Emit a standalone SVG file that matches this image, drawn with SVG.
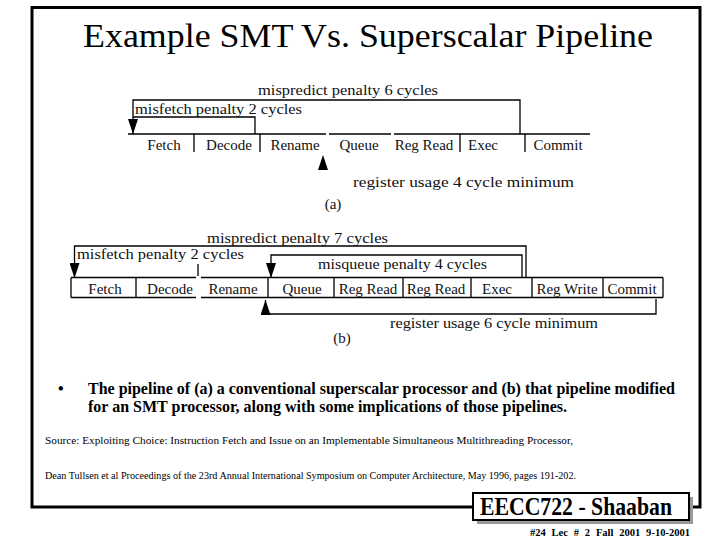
<svg xmlns="http://www.w3.org/2000/svg" width="720" height="540" viewBox="0 0 720 540">
<style>
.ln{fill:none;stroke:#000;stroke-width:1.3}
.lab{font-family:"Liberation Serif","Times New Roman",serif;font-size:15px;fill:#111}
.cell{font-family:"Liberation Serif","Times New Roman",serif;font-size:15px;fill:#111;text-anchor:middle}
.title{font-family:"Liberation Serif","Times New Roman",serif;font-size:34px;fill:#000}
.bul{font-family:"Liberation Serif","Times New Roman",serif;font-size:16px;font-weight:bold;fill:#000}
.src{font-family:"Liberation Serif","Times New Roman",serif;font-size:10.5px;fill:#000}
.badge{font-family:"Liberation Serif","Times New Roman",serif;font-size:25px;font-weight:bold;fill:#000}
.foot{font-family:"Liberation Serif","Times New Roman",serif;font-size:10px;font-weight:bold;fill:#000;word-spacing:3px}
</style>
<defs>
<marker id="arr" viewBox="0 0 15 10" refX="15" refY="5" markerWidth="15" markerHeight="10" orient="auto" markerUnits="userSpaceOnUse">
<path d="M0,0 L15,5 L0,10 z" fill="#000"/>
</marker>
</defs>
<rect width="720" height="540" fill="#fff"/>
<g id="frame">
<rect x="32" y="7.5" width="668" height="499.5" fill="none" stroke="#000" stroke-width="3"/>
</g>
<g id="title">
<text class="title" x="83" y="47" textLength="570" lengthAdjust="spacingAndGlyphs">Example SMT Vs. Superscalar Pipeline</text>
</g>

<g id="pipeline-a">
<path class="ln" d="M128,134 H326 M329,134 H391 M394,134 H590 M194,134 V152 M260,134 V152 M460,134 V152 M525,134 V152"/>
<g id="a-fetch"><text class="cell" x="164" y="150">Fetch</text></g>
<g id="a-decode"><text class="cell" x="229" y="150">Decode</text></g>
<g id="a-rename"><text class="cell" x="295" y="150">Rename</text></g>
<g id="a-queue"><text class="cell" x="359" y="150">Queue</text></g>
<g id="a-regread"><text class="cell" x="424" y="150">Reg Read</text></g>
<g id="a-exec"><text class="cell" x="483" y="150">Exec</text></g>
<g id="a-commit"><text class="cell" x="558" y="150">Commit</text></g>
<text class="cell" x="333" y="209">(a)</text>
</g>

<g id="pipeline-b">
<path class="ln" d="M71,277.5 H196 M201,277.5 H663 M71,297.5 H196 M201,297.5 H663 M71,277.5 V297.5 M663,277.5 V297.5 M136,277.5 V297.5 M268,277.5 V297.5 M334,277.5 V297.5 M403,277.5 V297.5 M471,277.5 V297.5 M532,277.5 V297.5 M603,277.5 V297.5"/>
<g id="b-fetch"><text class="cell" x="105" y="294">Fetch</text></g>
<g id="b-decode"><text class="cell" x="170" y="294">Decode</text></g>
<g id="b-rename"><text class="cell" x="233" y="294">Rename</text></g>
<g id="b-queue"><text class="cell" x="302" y="294">Queue</text></g>
<g id="b-regread1"><text class="cell" x="368" y="294">Reg Read</text></g>
<g id="b-regread2"><text class="cell" x="436" y="294">Reg Read</text></g>
<g id="b-exec"><text class="cell" x="497" y="294">Exec</text></g>
<g id="b-regwrite"><text class="cell" x="567" y="294">Reg Write</text></g>
<g id="b-commit"><text class="cell" x="632" y="294">Commit</text></g>
<text class="cell" x="342" y="343">(b)</text>
</g>

<g id="connectors">
<path class="ln" d="M520,134 V100 H133 V134" marker-end="url(#arr)"/>
<path class="ln" d="M255,134 V117 H133"/>
<polygon points="318,170 328,170 323,155" fill="#000"/>
<text class="lab" x="258" y="95" textLength="180" lengthAdjust="spacingAndGlyphs">mispredict penalty 6 cycles</text>
<text class="lab" x="135" y="114" textLength="167" lengthAdjust="spacingAndGlyphs">misfetch penalty 2 cycles</text>
<text class="lab" x="353" y="187" textLength="221" lengthAdjust="spacingAndGlyphs">register usage 4 cycle minimum</text>

<path class="ln" d="M526,278 V246 H74.5 V278" marker-end="url(#arr)"/>
<path class="ln" d="M198,276 V264"/>
<path class="ln" d="M522,277 V255 H271 V278" marker-end="url(#arr)"/>
<path class="ln" d="M656,299 V314 H265.5 V300" marker-end="url(#arr)"/>
<text class="lab" x="207" y="243" textLength="181" lengthAdjust="spacingAndGlyphs">mispredict penalty 7 cycles</text>
<text class="lab" x="77" y="259" textLength="167" lengthAdjust="spacingAndGlyphs">misfetch penalty 2 cycles</text>
<text class="lab" x="318" y="269" textLength="169" lengthAdjust="spacingAndGlyphs">misqueue penalty 4 cycles</text>
<text class="lab" x="390" y="328" textLength="208" lengthAdjust="spacingAndGlyphs">register usage 6 cycle minimum</text>
</g>

<g id="caption">
<text class="bul" x="58" y="394">•</text>
<text class="bul" x="88" y="394" textLength="587" lengthAdjust="spacingAndGlyphs">The pipeline of (a) a conventional superscalar processor and (b) that pipeline modified</text>
<text class="bul" x="88" y="412" textLength="479" lengthAdjust="spacingAndGlyphs">for an SMT processor, along with some implications of those pipelines.</text>
</g>

<g id="source">
<text class="src" x="45" y="444" textLength="528" lengthAdjust="spacingAndGlyphs">Source:  Exploiting Choice: Instruction Fetch and Issue on an Implementable Simultaneous Multithreading Processor,</text>
<text class="src" x="45" y="479" textLength="531" lengthAdjust="spacingAndGlyphs">Dean Tullsen et al Proceedings of the 23rd Annual International Symposium on Computer Architecture, May 1996, pages 191-202.</text>
</g>

<g id="badge">
<rect x="477" y="497" width="216" height="27" fill="#999"/>
<rect x="473" y="493" width="216" height="27" fill="#fff" stroke="#000" stroke-width="2"/>
<text class="badge" x="480" y="515" textLength="192" lengthAdjust="spacingAndGlyphs">EECC722 - Shaaban</text>
<text class="foot" x="530" y="536" textLength="160" lengthAdjust="spacingAndGlyphs">#24 Lec # 2 Fall 2001 9-10-2001</text>
</g>
</svg>
